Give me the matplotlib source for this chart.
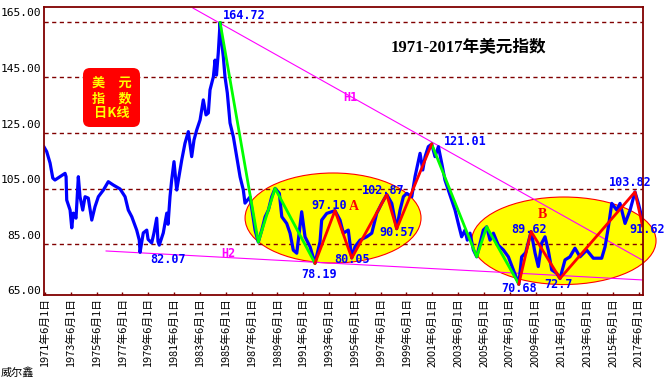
import matplotlib
matplotlib.use('Agg')
import matplotlib.pyplot as plt
from matplotlib.patches import Ellipse, FancyBboxPatch
from matplotlib.transforms import IdentityTransform

# ---- data ----
years = [1971.34, 1971.55, 1971.81, 1972.02, 1972.19, 1972.58, 1972.97, 1973.05, 1973.10, 1973.36,
         1973.49, 1973.61, 1973.82, 1974.00, 1974.13, 1974.34, 1974.52, 1974.77, 1975.04, 1975.29,
         1975.55, 1975.94, 1976.32, 1976.71, 1977.23, 1977.62, 1977.87, 1978.14, 1978.52, 1978.72,
         1978.78, 1979.03, 1979.30, 1979.40, 1979.68, 1979.85, 1980.07, 1980.17, 1980.27, 1980.58,
         1980.85, 1980.95, 1981.10, 1981.23, 1981.41, 1981.62, 1981.88, 1982.01, 1982.26, 1982.52,
         1982.78, 1982.96, 1983.17, 1983.43, 1983.68, 1983.89, 1984.07, 1984.20, 1984.46, 1984.59,
         1984.70, 1984.84, 1984.98, 1985.11, 1985.23, 1985.36, 1985.54, 1985.75, 1986.01, 1986.27,
         1986.53, 1986.78, 1986.91, 1987.30, 1987.69, 1987.94, 1988.21, 1988.47, 1988.72, 1988.98,
         1989.24, 1989.57, 1989.76, 1990.14, 1990.40, 1990.65, 1990.92, 1991.30, 1991.56, 1991.95,
         1992.33, 1992.72, 1992.85, 1993.24, 1993.88, 1994.27, 1994.53, 1994.91, 1995.18, 1995.43,
         1995.82, 1996.34, 1996.73, 1997.11, 1997.50, 1997.89, 1998.28, 1998.66, 1998.92, 1999.18,
         1999.44, 1999.83, 2000.08, 2000.47, 2000.68, 2000.86, 2001.11, 2001.37, 2001.63, 2001.89,
         2002.15, 2002.40, 2002.66, 2002.92, 2003.18, 2003.43, 2003.69, 2003.95, 2004.13, 2004.34,
         2004.60, 2004.86, 2005.12, 2005.37, 2005.63, 2005.89, 2006.15, 2006.53, 2006.92, 2007.31,
         2007.70, 2008.12, 2008.34, 2008.65, 2009.07, 2009.38, 2009.63, 2009.89, 2010.15, 2010.40,
         2010.67, 2011.05, 2011.31, 2011.70, 2012.08, 2012.47, 2012.86, 2013.38, 2013.89, 2014.54,
         2014.80, 2015.06, 2015.32, 2015.71, 2015.96, 2016.35, 2016.74, 2017.12, 2017.38, 2017.64,
         2017.72]
values = [120.0, 118.3, 114.2, 108.8, 108.1, 109.3, 110.5, 109.3, 100.9, 97.3,
          90.9, 96.2, 94.4, 109.3, 102.1, 97.3, 102.1, 101.6, 93.7, 98.5,
          102.1, 104.5, 107.5, 106.3, 104.9, 102.1, 97.3, 94.9, 90.1, 86.5,
          82.1, 89.1, 90.1, 86.8, 85.5, 88.9, 94.4, 86.0, 84.7, 89.1,
          96.2, 92.2, 102.1, 108.1, 114.7, 104.5, 111.7, 115.3, 121.3, 125.5,
          116.5, 122.5, 126.1, 129.7, 136.9, 131.5, 132.2, 140.5, 145.2, 151.2,
          145.8, 153.8, 164.7, 157.3, 152.4, 145.2, 139.4, 128.6, 123.6, 116.4,
          109.2, 104.5, 99.8, 102.0, 90.1, 85.8, 90.1, 94.9, 97.3, 102.1,
          105.1, 103.3, 94.9, 92.5, 89.0, 82.9, 81.8, 96.7, 87.7, 84.1,
          78.2, 85.9, 93.7, 96.1, 97.1, 93.7, 89.0, 90.1, 80.1, 84.1,
          86.5, 87.7, 89.0, 96.1, 99.7, 102.9, 99.7, 90.6, 97.3, 102.1,
          103.3, 102.1, 109.3, 117.7, 111.7, 116.5, 120.1, 121.0, 116.5, 120.1,
          114.1, 108.1, 104.5, 100.9, 97.3, 92.5, 87.7, 90.1, 86.5, 89.0,
          83.0, 80.5, 85.4, 90.1, 91.3, 86.5, 89.0, 84.7, 83.0, 80.5,
          75.8, 70.7, 80.5, 82.0, 89.6, 81.8, 77.0, 85.4, 87.7, 82.9,
          75.8, 74.6, 72.7, 79.4, 80.5, 83.6, 80.5, 82.9, 80.0, 80.0,
          84.1, 91.3, 99.7, 97.3, 99.7, 92.5, 97.3, 103.8, 99.7, 94.9,
          92.0]

green_segs = [
    ([1984.98, 1987.94, 1989.24, 1992.33], [164.72, 85.8, 105.1, 78.19]),
    ([2001.37, 2004.86, 2005.63, 2008.12], [121.01, 80.5, 91.3, 70.68]),
]
red_segs = [
    ([1992.33, 1993.88, 1995.18, 1997.89, 1998.66, 2001.37], [78.19, 97.10, 80.05, 102.87, 90.57, 121.01]),
    ([2008.12, 2009.07, 2011.31, 2017.12, 2017.70], [70.68, 89.62, 72.7, 103.82, 91.62]),
]
h1_x, h1_y = [1982.88, 2017.66], [169.9, 79.4]
h2_x, h2_y = [1976.15, 2017.66], [82.6, 72.2]

grid_levels = [85, 105, 125, 145, 165]
ytick_labels = ['65.00', '85.00', '105.00', '125.00', '145.00', '165.00']
ytick_pos = [68.4, 88.4, 108.4, 128.4, 148.4, 168.4]
xtick_years = list(range(1971, 2018, 2))
xtick_labels = [f'{y}年6月1日' for y in xtick_years]

peak_labels = [
    ('164.72', 1986.87, 167.4), ('82.07', 1980.97, 79.4), ('78.19', 1992.64, 74.1),
    ('97.10', 1993.42, 98.8), ('102.87', 1997.60, 104.2), ('90.57', 1998.73, 89.2),
    ('80.05', 1995.24, 79.7), ('121.01', 2004.00, 122.1), ('70.68', 2008.14, 69.1),
    ('72.7', 2011.23, 70.55), ('89.62', 2008.91, 90.3), ('103.82', 2016.76, 107.1),
    ('91.62', 2018.05, 90.3),
]

MAROON = '#800000'

fig = plt.figure(figsize=(6.71, 3.84), dpi=100)
ax = fig.add_axes([44 / 671, 1 - 295 / 384, 599 / 671, 288 / 384])
ax.set_xlim(1971.34, 2017.74)
ax.set_ylim(66.78, 170.28)

for s in ax.spines.values():
    s.set_color(MAROON)
    s.set_linewidth(1.3)
    s.set_zorder(10)

# ellipses
ax.add_patch(Ellipse((1993.73, 94.45), 13.63, 32.35, facecolor='#FFFF00', edgecolor='#FF0000',
                     lw=0.8, zorder=1))
ax.add_patch(Ellipse((2011.61, 86.27), 14.28, 31.45, facecolor='#FFFF00', edgecolor='#FF0000',
                     lw=0.8, zorder=1, clip_on=False))

# grid
ax.hlines(grid_levels, 1971.34, 2017.74, colors=MAROON, linestyles=(0, (3, 2.5)), lw=1.0, zorder=2)

# trend lines
ax.plot(h1_x, h1_y, color='#FF00FF', lw=0.8, zorder=4, clip_on=False)
ax.plot(h2_x, h2_y, color='#FF00FF', lw=0.8, zorder=4)

ax.plot(years, values, color='#0000FF', lw=2.3, zorder=5)
for xs, ys in green_segs:
    ax.plot(xs, ys, color='#00FF00', lw=2.0, zorder=6)
for xs, ys in red_segs:
    ax.plot(xs, ys, color='#FF0000', lw=2.0, zorder=6)

mono = dict(family='DejaVu Sans Mono', fontweight='bold', fontsize=8.5)
for t, x, y in peak_labels:
    ax.text(x, y, t, color='#0000FF', ha='center', va='center', zorder=8, clip_on=False, **mono)
ax.text(1995.08, 137.9, 'H1', color='#FF00FF', ha='center', va='center', zorder=8, **mono)
ax.text(1985.60, 81.6, 'H2', color='#FF00FF', ha='center', va='center', zorder=8, **mono)
ax.text(1995.36, 98.6, 'A', color='#FF0000', ha='center', va='center', fontsize=10,
        family='Liberation Serif', fontweight='bold', zorder=8)
ax.text(2009.95, 95.6, 'B', color='#FF0000', ha='center', va='center', fontsize=10,
        family='Liberation Serif', fontweight='bold', zorder=8)

# axes ticks
ax.set_yticks(ytick_pos)
ax.set_yticklabels(ytick_labels, family='DejaVu Sans Mono', fontsize=8.1)
ax.tick_params(axis='y', length=0, pad=2)
ax.set_xticks([y + 0.42 for y in xtick_years])
ax.set_xticklabels(xtick_labels, rotation=90, family=['Noto Sans CJK SC', 'DejaVu Sans'], fontsize=7.8)
ax.tick_params(axis='x', direction='in', length=2.5, width=1, color=MAROON, pad=2)

# title
fig.text(468.5 / 671, 1 - 48.3 / 384, '1971-2017年美元指数', ha='center', va='center', fontsize=12,
         family=['Liberation Serif', 'Noto Sans CJK SC'], fontweight='bold')

# red label box
box = FancyBboxPatch((83, 384 - 127), 57, 59, boxstyle='round,pad=0,rounding_size=7',
                     facecolor='#FF0000', edgecolor='none', transform=IdentityTransform(),
                     zorder=20)
fig.patches.append(box)
for txt, yy in [('美\u3000元', 82.7), ('指\u3000数', 98.3), ('日K线', 113.3)]:
    fig.text(111.5 / 671, 1 - yy / 384, txt, color='#FFFF00', ha='center', va='center', fontsize=9.5,
             family=['Noto Sans CJK SC', 'DejaVu Sans'], fontweight='bold', zorder=21)

fig.text(1 / 671, 1 - 372 / 384, '威尔鑫', ha='left', va='center', fontsize=8,
         family=['Noto Sans CJK SC', 'DejaVu Sans'])

fig.savefig('out.png', dpi=100)
